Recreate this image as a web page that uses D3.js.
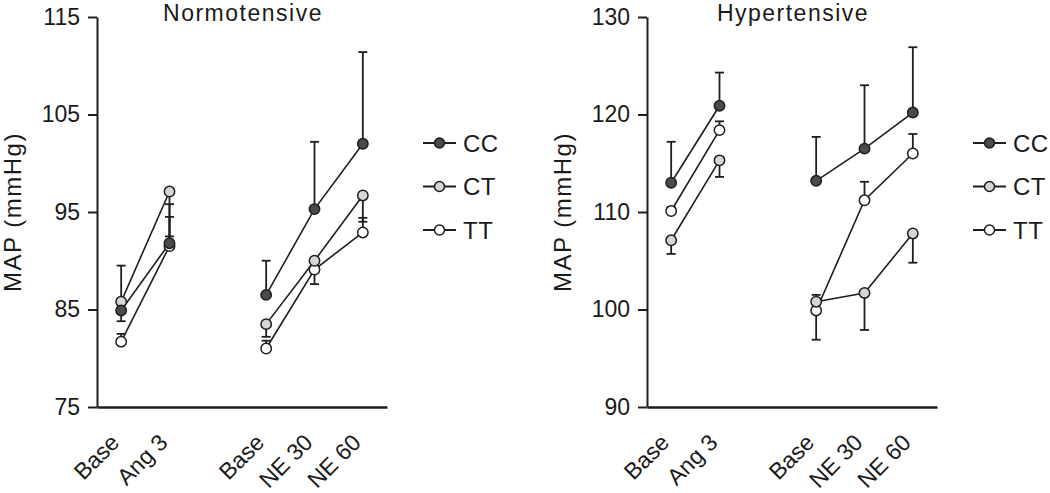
<!DOCTYPE html>
<html>
<head>
<meta charset="utf-8">
<script src="https://cdn.jsdelivr.net/npm/d3@7"></script>
<style>
  html, body { margin: 0; padding: 0; background: #fff; }
  svg { display: block; }
  text { font-family: "Liberation Sans", Arial, Helvetica, sans-serif; fill: #1a1a1a; }
</style>
</head>
<body>
<svg id="chart" width="1050" height="493"></svg>
<script>
// ---- data ----
const categories = ["Base", "Ang 3", "Base", "NE 30", "NE 60"];
const categoryPos = [0, 1, 3, 4, 5];
const segments = [[0, 1], [2, 3, 4]];
const seriesNames = ["CC", "CT", "TT"];

const normoTicks = [75, 85, 95, 105, 115];
const normoCC = [84.9, 91.8, 86.5, 95.3, 102.0];
const normoCCErr = [89.5, 94.5, 90.0, 102.2, 111.4];
const normoCT = [85.8, 97.1, 83.5, 90.0, 96.7];
const normoCTErr = [83.8, 92.5, 82.2, null, 94.0];
const normoTT = [81.7, 91.5, 81.0, 89.1, 92.9];
const normoTTErr = [82.5, 95.8, 81.8, 87.6, 94.4];

const hyperTicks = [90, 100, 110, 120, 130];
const hyperCC = [113.0, 120.9, 113.2, 116.5, 120.2];
const hyperCCErr = [117.2, 124.3, 117.7, 123.0, 126.9];
const hyperCT = [107.1, 115.3, 100.8, 101.7, 107.8];
const hyperCTErr = [105.7, 113.6, 101.5, 97.9, 104.8];
const hyperTT = [110.1, 118.4, 99.9, 111.2, 116.0];
const hyperTTErr = [110.5, 119.3, 96.9, 113.1, 118.0];

const fills = { CC: "#4a4a4a", CT: "#d6d6d6", TT: "#ffffff" };
const stroke = "#1e1e1e";

const svg = d3.select("#chart");

function panel(opts) {
  const x = d3.scaleLinear().domain([-0.5, 5.5]).range([opts.x0, opts.x0 + 290]);
  const y = d3.scaleLinear().domain([opts.ticks[0], opts.ticks[opts.ticks.length - 1]]).range([407, 17]);
  const g = svg.append("g");

  // y axis
  const ya = g.append("g").attr("transform", `translate(${opts.x0},0)`)
    .call(d3.axisLeft(y).tickValues(opts.ticks).tickSize(9).tickSizeOuter(0).tickPadding(8));
  ya.select(".domain").attr("stroke", stroke).attr("stroke-width", 2);
  ya.selectAll(".tick line").attr("stroke", stroke).attr("stroke-width", 2);
  ya.selectAll(".tick text").style("font-size", "23px").attr("fill", "#1a1a1a")
    .style("font-family", '"Liberation Sans", Arial, sans-serif');

  // x axis
  const xa = g.append("g").attr("transform", "translate(0,407)")
    .call(d3.axisBottom(x).tickValues(categoryPos).tickFormat((d, i) => categories[i]).tickSize(0).tickSizeOuter(0));
  xa.select(".domain").attr("stroke", stroke).attr("stroke-width", 2.5);
  xa.selectAll(".tick text")
    .attr("x", 0).attr("y", 0).attr("dy", null)
    .attr("transform", "translate(-1,37) rotate(-45)")
    .style("text-anchor", "end").style("font-size", "23px").attr("fill", "#1a1a1a")
    .style("font-family", '"Liberation Sans", Arial, sans-serif');

  // y label
  g.append("text")
    .attr("transform", `translate(${opts.x0 - 76},212) rotate(-90)`)
    .attr("text-anchor", "middle")
    .style("font-size", "24px").style("letter-spacing", "1.5px")
    .text("MAP (mmHg)");

  // title
  g.append("text")
    .attr("x", opts.x0 + 146).attr("y", 21)
    .attr("text-anchor", "middle")
    .style("font-size", "23px").style("letter-spacing", "1.5px")
    .text(opts.title);

  const drawOrder = ["TT", "CT", "CC"];
  const line = d3.line().x(d => x(d.p)).y(d => y(d.v));

  drawOrder.forEach(name => {
    const vals = opts.data[name].v;
    const errs = opts.data[name].e;
    // error bars
    vals.forEach((v, i) => {
      const e = errs[i];
      if (e === null) return;
      const cx = x(categoryPos[i]);
      g.append("line").attr("x1", cx).attr("x2", cx).attr("y1", y(v)).attr("y2", y(e))
        .attr("stroke", stroke).attr("stroke-width", 1.8);
      g.append("line").attr("x1", cx - 4.5).attr("x2", cx + 4.5).attr("y1", y(e)).attr("y2", y(e))
        .attr("stroke", stroke).attr("stroke-width", 1.8);
    });
    // lines
    segments.forEach(seg => {
      const pts = seg.map(i => ({ p: categoryPos[i], v: vals[i] }));
      g.append("path").attr("d", line(pts)).attr("fill", "none")
        .attr("stroke", stroke).attr("stroke-width", 1.6);
    });
  });
  drawOrder.forEach(name => {
    const vals = opts.data[name].v;
    vals.forEach((v, i) => {
      g.append("circle").attr("cx", x(categoryPos[i])).attr("cy", y(v)).attr("r", 5.2)
        .attr("fill", fills[name]).attr("stroke", stroke).attr("stroke-width", 1.5);
    });
  });

  // legend
  const legY = d3.scalePoint().domain(seriesNames).range([143, 230]);
  seriesNames.forEach(name => {
    const ly = legY(name);
    g.append("line").attr("x1", opts.legX).attr("x2", opts.legX + 33).attr("y1", ly).attr("y2", ly)
      .attr("stroke", stroke).attr("stroke-width", 1.8);
    g.append("circle").attr("cx", opts.legX + 16.5).attr("cy", ly).attr("r", 5)
      .attr("fill", fills[name]).attr("stroke", stroke).attr("stroke-width", 1.5);
    g.append("text").attr("x", opts.legX + 40).attr("y", ly).attr("dy", "0.36em")
      .style("font-size", "24px").style("letter-spacing", "0.5px").text(name);
  });
}

panel({
  x0: 97, ticks: normoTicks, title: "Normotensive", legX: 423,
  data: { CC: { v: normoCC, e: normoCCErr }, CT: { v: normoCT, e: normoCTErr }, TT: { v: normoTT, e: normoTTErr } }
});
panel({
  x0: 647, ticks: hyperTicks, title: "Hypertensive", legX: 973,
  data: { CC: { v: hyperCC, e: hyperCCErr }, CT: { v: hyperCT, e: hyperCTErr }, TT: { v: hyperTT, e: hyperTTErr } }
});
</script>
</body>
</html>
